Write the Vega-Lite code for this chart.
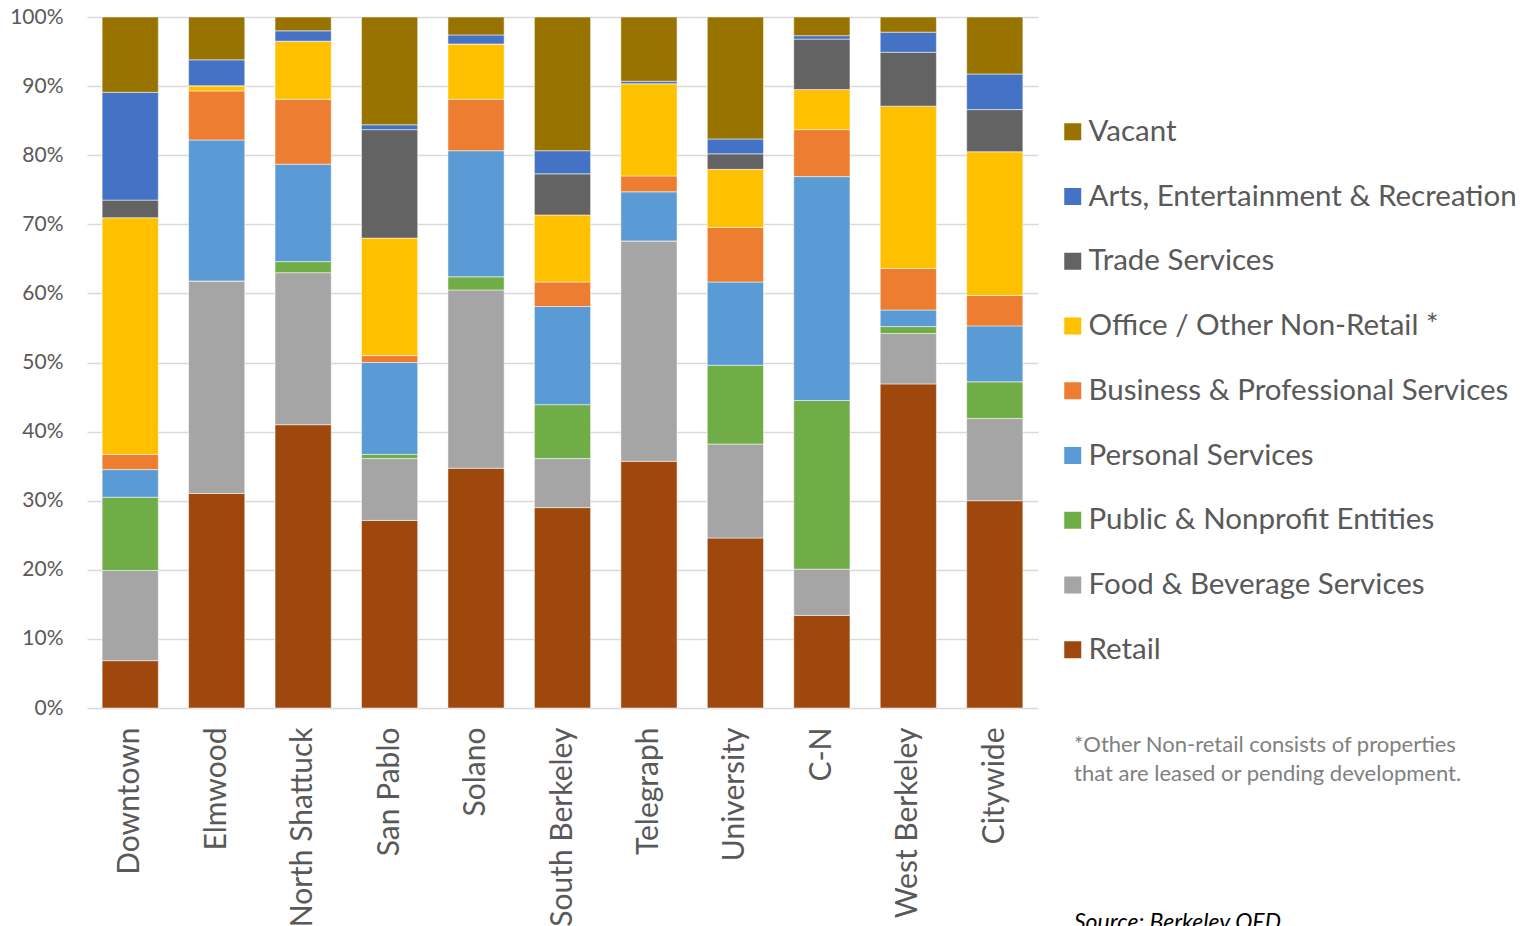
{
  "$schema": "https://vega.github.io/schema/vega-lite/v6.json",
  "width": 951,
  "height": 691,
  "autosize": {"type": "none"},
  "padding": {"left": 87, "top": 17, "right": 491, "bottom": 218},
  "background": "white",
  "config": {
    "font": "Lato",
    "view": {"stroke": null},
    "axis": {"labelColor": "#595959", "domain": false, "ticks": false}
  },
  "title": {
    "text": ["*Other Non-retail consists of properties", "that are leased or pending development."],
    "subtitle": "Source: Berkeley OED",
    "orient": "bottom",
    "anchor": "start",
    "frame": "group",
    "offset": 0,
    "dx": 987,
    "dy": -192,
    "fontSize": 22,
    "fontWeight": "normal",
    "color": "#808080",
    "lineHeight": 29,
    "subtitleFontSize": 23,
    "subtitleFontStyle": "italic",
    "subtitleColor": "#000000",
    "subtitlePadding": 126
  },
  "data": {
    "values": [
      {"area": "Downtown", "use": "Retail", "pct": 6.85},
      {"area": "Downtown", "use": "Food & Beverage Services", "pct": 13.05},
      {"area": "Downtown", "use": "Public & Nonprofit Entities", "pct": 10.6},
      {"area": "Downtown", "use": "Personal Services", "pct": 4.0},
      {"area": "Downtown", "use": "Business & Professional Services", "pct": 2.2},
      {"area": "Downtown", "use": "Office / Other Non-Retail", "pct": 34.25},
      {"area": "Downtown", "use": "Trade Services", "pct": 2.55},
      {"area": "Downtown", "use": "Arts, Entertainment & Recreation", "pct": 15.6},
      {"area": "Downtown", "use": "Vacant", "pct": 10.9},

      {"area": "Elmwood", "use": "Retail", "pct": 31.05},
      {"area": "Elmwood", "use": "Food & Beverage Services", "pct": 30.75},
      {"area": "Elmwood", "use": "Public & Nonprofit Entities", "pct": 0},
      {"area": "Elmwood", "use": "Personal Services", "pct": 20.4},
      {"area": "Elmwood", "use": "Business & Professional Services", "pct": 7.1},
      {"area": "Elmwood", "use": "Office / Other Non-Retail", "pct": 0.75},
      {"area": "Elmwood", "use": "Trade Services", "pct": 0},
      {"area": "Elmwood", "use": "Arts, Entertainment & Recreation", "pct": 3.75},
      {"area": "Elmwood", "use": "Vacant", "pct": 6.2},

      {"area": "North Shattuck", "use": "Retail", "pct": 41.0},
      {"area": "North Shattuck", "use": "Food & Beverage Services", "pct": 22.0},
      {"area": "North Shattuck", "use": "Public & Nonprofit Entities", "pct": 1.6},
      {"area": "North Shattuck", "use": "Personal Services", "pct": 14.1},
      {"area": "North Shattuck", "use": "Business & Professional Services", "pct": 9.4},
      {"area": "North Shattuck", "use": "Office / Other Non-Retail", "pct": 8.4},
      {"area": "North Shattuck", "use": "Trade Services", "pct": 0},
      {"area": "North Shattuck", "use": "Arts, Entertainment & Recreation", "pct": 1.5},
      {"area": "North Shattuck", "use": "Vacant", "pct": 2.0},

      {"area": "San Pablo", "use": "Retail", "pct": 27.15},
      {"area": "San Pablo", "use": "Food & Beverage Services", "pct": 8.95},
      {"area": "San Pablo", "use": "Public & Nonprofit Entities", "pct": 0.6},
      {"area": "San Pablo", "use": "Personal Services", "pct": 13.3},
      {"area": "San Pablo", "use": "Business & Professional Services", "pct": 1.0},
      {"area": "San Pablo", "use": "Office / Other Non-Retail", "pct": 17.0},
      {"area": "San Pablo", "use": "Trade Services", "pct": 15.7},
      {"area": "San Pablo", "use": "Arts, Entertainment & Recreation", "pct": 0.7},
      {"area": "San Pablo", "use": "Vacant", "pct": 15.6},

      {"area": "Solano", "use": "Retail", "pct": 34.7},
      {"area": "Solano", "use": "Food & Beverage Services", "pct": 25.8},
      {"area": "Solano", "use": "Public & Nonprofit Entities", "pct": 1.9},
      {"area": "Solano", "use": "Personal Services", "pct": 18.25},
      {"area": "Solano", "use": "Business & Professional Services", "pct": 7.45},
      {"area": "Solano", "use": "Office / Other Non-Retail", "pct": 8.0},
      {"area": "Solano", "use": "Trade Services", "pct": 0},
      {"area": "Solano", "use": "Arts, Entertainment & Recreation", "pct": 1.3},
      {"area": "Solano", "use": "Vacant", "pct": 2.6},

      {"area": "South Berkeley", "use": "Retail", "pct": 29.0},
      {"area": "South Berkeley", "use": "Food & Beverage Services", "pct": 7.1},
      {"area": "South Berkeley", "use": "Public & Nonprofit Entities", "pct": 7.8},
      {"area": "South Berkeley", "use": "Personal Services", "pct": 14.2},
      {"area": "South Berkeley", "use": "Business & Professional Services", "pct": 3.55},
      {"area": "South Berkeley", "use": "Office / Other Non-Retail", "pct": 9.7},
      {"area": "South Berkeley", "use": "Trade Services", "pct": 5.95},
      {"area": "South Berkeley", "use": "Arts, Entertainment & Recreation", "pct": 3.35},
      {"area": "South Berkeley", "use": "Vacant", "pct": 19.35},

      {"area": "Telegraph", "use": "Retail", "pct": 35.7},
      {"area": "Telegraph", "use": "Food & Beverage Services", "pct": 31.9},
      {"area": "Telegraph", "use": "Public & Nonprofit Entities", "pct": 0},
      {"area": "Telegraph", "use": "Personal Services", "pct": 7.1},
      {"area": "Telegraph", "use": "Business & Professional Services", "pct": 2.3},
      {"area": "Telegraph", "use": "Office / Other Non-Retail", "pct": 13.35},
      {"area": "Telegraph", "use": "Trade Services", "pct": 0},
      {"area": "Telegraph", "use": "Arts, Entertainment & Recreation", "pct": 0.35},
      {"area": "Telegraph", "use": "Vacant", "pct": 9.3},

      {"area": "University", "use": "Retail", "pct": 24.6},
      {"area": "University", "use": "Food & Beverage Services", "pct": 13.6},
      {"area": "University", "use": "Public & Nonprofit Entities", "pct": 11.4},
      {"area": "University", "use": "Personal Services", "pct": 12.05},
      {"area": "University", "use": "Business & Professional Services", "pct": 7.9},
      {"area": "University", "use": "Office / Other Non-Retail", "pct": 8.4},
      {"area": "University", "use": "Trade Services", "pct": 2.25},
      {"area": "University", "use": "Arts, Entertainment & Recreation", "pct": 2.15},
      {"area": "University", "use": "Vacant", "pct": 17.65},

      {"area": "C-N", "use": "Retail", "pct": 13.4},
      {"area": "C-N", "use": "Food & Beverage Services", "pct": 6.7},
      {"area": "C-N", "use": "Public & Nonprofit Entities", "pct": 24.4},
      {"area": "C-N", "use": "Personal Services", "pct": 32.4},
      {"area": "C-N", "use": "Business & Professional Services", "pct": 6.8},
      {"area": "C-N", "use": "Office / Other Non-Retail", "pct": 5.8},
      {"area": "C-N", "use": "Trade Services", "pct": 7.3},
      {"area": "C-N", "use": "Arts, Entertainment & Recreation", "pct": 0.5},
      {"area": "C-N", "use": "Vacant", "pct": 2.7},

      {"area": "West Berkeley", "use": "Retail", "pct": 46.9},
      {"area": "West Berkeley", "use": "Food & Beverage Services", "pct": 7.3},
      {"area": "West Berkeley", "use": "Public & Nonprofit Entities", "pct": 1.0},
      {"area": "West Berkeley", "use": "Personal Services", "pct": 2.4},
      {"area": "West Berkeley", "use": "Business & Professional Services", "pct": 6.0},
      {"area": "West Berkeley", "use": "Office / Other Non-Retail", "pct": 23.5},
      {"area": "West Berkeley", "use": "Trade Services", "pct": 7.8},
      {"area": "West Berkeley", "use": "Arts, Entertainment & Recreation", "pct": 2.9},
      {"area": "West Berkeley", "use": "Vacant", "pct": 2.2},

      {"area": "Citywide", "use": "Retail", "pct": 30.0},
      {"area": "Citywide", "use": "Food & Beverage Services", "pct": 11.9},
      {"area": "Citywide", "use": "Public & Nonprofit Entities", "pct": 5.3},
      {"area": "Citywide", "use": "Personal Services", "pct": 8.1},
      {"area": "Citywide", "use": "Business & Professional Services", "pct": 4.4},
      {"area": "Citywide", "use": "Office / Other Non-Retail", "pct": 20.8},
      {"area": "Citywide", "use": "Trade Services", "pct": 6.1},
      {"area": "Citywide", "use": "Arts, Entertainment & Recreation", "pct": 5.15},
      {"area": "Citywide", "use": "Vacant", "pct": 8.25}
    ]
  },
  "transform": [
    {"calculate": "indexof(['Retail', 'Food & Beverage Services', 'Public & Nonprofit Entities', 'Personal Services', 'Business & Professional Services', 'Office / Other Non-Retail', 'Trade Services', 'Arts, Entertainment & Recreation', 'Vacant'], datum.use)", "as": "stackRank"}
  ],
  "mark": {"type": "bar", "stroke": "white", "strokeWidth": 1, "strokeOpacity": 0.5},
  "encoding": {
    "x": {
      "field": "area",
      "type": "nominal",
      "sort": null,
      "scale": {"paddingInner": 0.35, "paddingOuter": 0.175},
      "axis": {
        "title": null,
        "labelAngle": -90,
        "labelFontSize": 30,
        "labelPadding": 19,
        "labelLimit": 400,
        "grid": false
      }
    },
    "y": {
      "field": "pct",
      "type": "quantitative",
      "stack": "normalize",
      "scale": {"domain": [0, 1], "nice": false},
      "axis": {
        "title": null,
        "values": [0, 0.1, 0.2, 0.3, 0.4, 0.5, 0.6, 0.7, 0.8, 0.9, 1],
        "format": ".0%",
        "labelFontSize": 21,
        "labelPadding": 24,
        "grid": true,
        "gridColor": "#D9D9D9",
        "gridWidth": 1.5
      }
    },
    "order": {"field": "stackRank", "type": "quantitative", "sort": "ascending"},
    "color": {
      "field": "use",
      "type": "nominal",
      "scale": {
        "domain": ["Vacant", "Arts, Entertainment & Recreation", "Trade Services", "Office / Other Non-Retail", "Business & Professional Services", "Personal Services", "Public & Nonprofit Entities", "Food & Beverage Services", "Retail"],
        "range": ["#997300", "#4472C4", "#636363", "#FFC000", "#ED7D31", "#5B9BD5", "#70AD47", "#A5A5A5", "#9E480E"]
      },
      "legend": {
        "title": null,
        "orient": "none",
        "legendX": 971,
        "legendY": 100,
        "padding": 0,
        "symbolType": "square",
        "symbolSize": 289,
        "symbolStrokeWidth": 0,
        "symbolOpacity": 1,
        "labelFontSize": 29.5,
        "labelColor": "#595959",
        "labelOffset": 1,
        "labelLimit": 600,
        "rowPadding": 33.75,
        "labelExpr": "datum.label == 'Office / Other Non-Retail' ? datum.label + '    *' : datum.label"
      }
    }
  }
}
